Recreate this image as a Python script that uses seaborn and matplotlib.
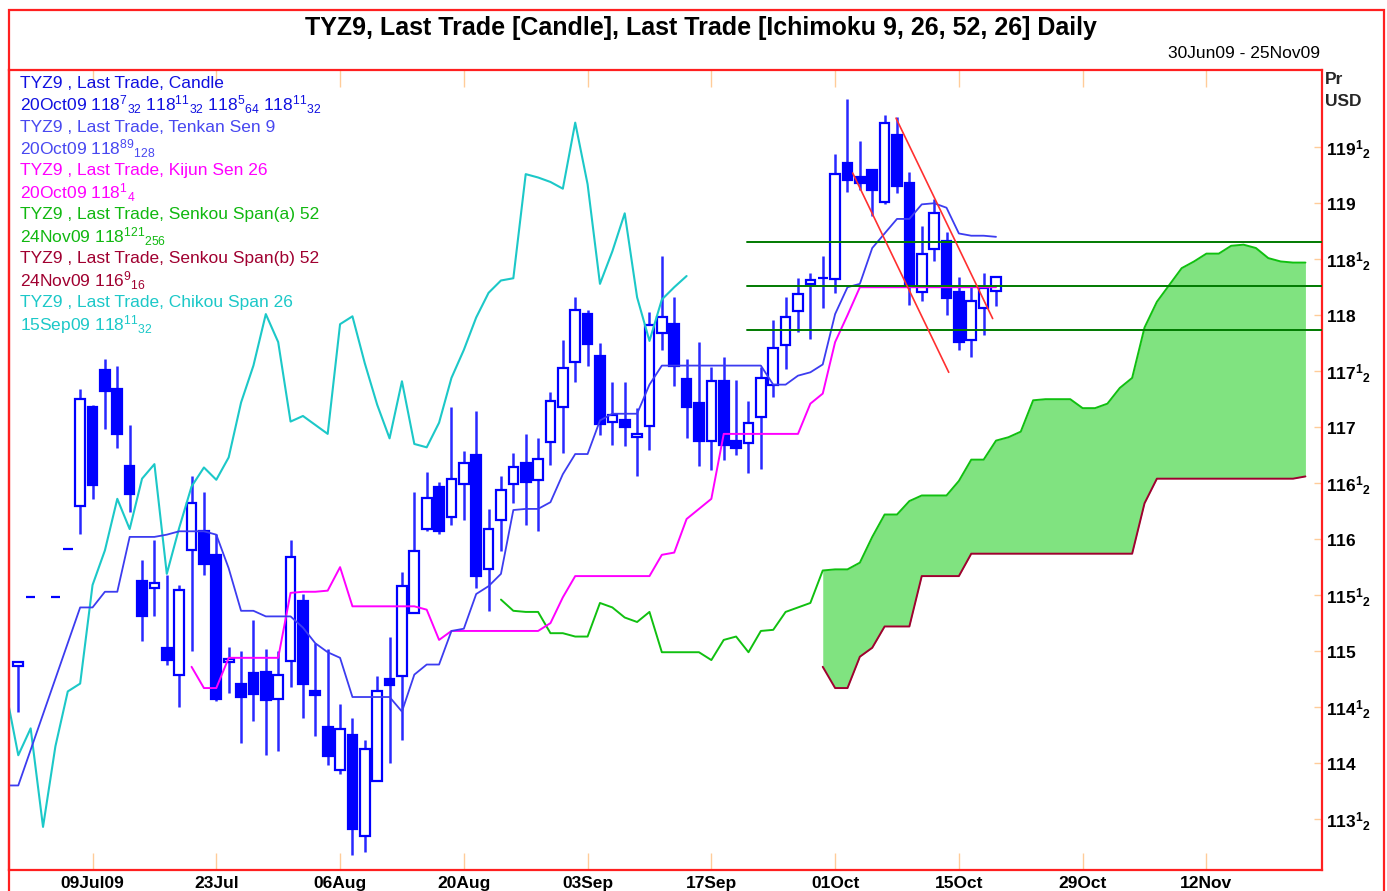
import numpy as np
import pandas as pd
import matplotlib
matplotlib.use("Agg")
import matplotlib.pyplot as plt
import seaborn as sns
from matplotlib.patches import Rectangle

# ---------------- data ----------------
sessions = pd.bdate_range("2009-06-30", "2009-11-25")   # x index 0..106
N = None

opens = [N, 114.87, 115.48, N, 115.48, 115.91, 116.30, 117.18, 117.51, 117.34,
         116.65, 115.63, 115.56, 115.03, 114.79, 115.90, 116.07, 115.86, 114.90, 114.71,
         114.80, 114.81, 114.57, 114.91, 115.45, 114.64, 114.32, 113.94, 114.25, 113.35,
         113.84, 114.75, 114.78, 115.34, 116.09, 116.47, 116.20, 116.49, 116.75, 115.73,
         116.17, 116.49, 116.68, 116.53, 116.87, 117.18, 117.58, 118.01, 117.64, 117.05,
         117.06, 116.91, 117.01, 117.84, 117.92, 117.43, 117.22, 116.88, 117.41, 116.88,
         116.86, 117.09, 117.38, 117.73, 118.04, 118.28, 118.33, 118.32, 119.36, 119.23,
         119.30, 119.01, 119.61, 119.18, 118.21, 118.59, 118.66, 118.21, 117.78, 118.06,
         118.22]
highs = [N, 114.90, 115.48, N, 115.48, 115.91, 117.34, 117.20, 117.61, 117.55,
         117.02, 115.81, 115.99, 115.68, 115.59, 116.56, 116.42, 116.05, 115.04, 115.00,
         115.28, 115.02, 115.00, 115.99, 115.51, 115.07, 115.02, 114.53, 114.40, 114.21,
         114.78, 115.13, 115.71, 116.42, 116.60, 116.51, 117.18, 116.79, 117.14, 116.27,
         116.56, 116.77, 116.94, 116.90, 117.31, 117.78, 118.16, 118.05, 117.75, 117.40,
         117.40, 117.17, 118.03, 118.53, 118.16, 117.61, 117.76, 117.54, 117.63, 117.42,
         117.23, 117.54, 117.96, 118.16, 118.33, 118.38, 118.53, 119.44, 119.93, 119.56,
         119.31, 119.79, 119.77, 119.28, 118.80, 119.04, 118.74, 118.34, 118.27, 118.38,
         118.34]
lows = [N, 114.46, 115.48, N, 115.48, 115.91, 116.05, 116.36, 116.98, 116.81,
        116.24, 115.09, 115.31, 114.88, 114.50, 115.00, 115.68, 114.55, 114.63, 114.18,
        114.38, 114.07, 114.11, 114.68, 114.40, 114.24, 113.98, 113.90, 113.18, 113.21,
        113.84, 114.00, 114.21, 115.34, 116.07, 116.05, 116.13, 116.17, 115.56, 115.36,
        115.89, 116.32, 116.13, 116.07, 116.66, 116.77, 117.40, 117.55, 116.93, 116.84,
        116.83, 116.56, 116.80, 117.69, 117.37, 116.90, 116.65, 116.62, 116.71, 116.75,
        116.59, 116.63, 117.27, 117.52, 117.85, 117.79, 118.06, 118.20, 119.10, 119.12,
        118.89, 118.99, 119.09, 118.09, 118.13, 118.48, 118.00, 117.69, 117.63, 117.82,
        118.08]
closes = [N, 114.90, 115.48, N, 115.48, 115.91, 117.25, 116.48, 117.32, 116.94,
          116.40, 115.31, 115.61, 114.92, 115.55, 116.32, 115.78, 114.57, 114.93, 114.59,
          114.62, 114.56, 114.79, 115.84, 114.71, 114.61, 114.06, 114.30, 113.41, 114.13,
          114.64, 114.70, 115.58, 115.89, 116.37, 116.07, 116.54, 116.68, 115.67, 116.09,
          116.44, 116.64, 116.51, 116.72, 117.23, 117.53, 118.05, 117.74, 117.03, 117.11,
          117.00, 116.94, 117.91, 117.98, 117.55, 117.18, 116.88, 117.41, 116.84, 116.81,
          117.04, 117.44, 117.71, 117.98, 118.19, 118.31, 118.33, 119.26, 119.21, 119.18,
          119.12, 119.72, 119.15, 118.27, 118.55, 118.91, 118.15, 117.76, 118.13, 118.24,
          118.34]

# Tenkan Sen 9 (index 0..80)
tenkan = [113.80, 113.80, N, N, N, N, 115.39, 115.39, 115.53, 115.53,
          116.02, 116.02, 116.02, 116.04, 116.07, 116.07, 116.07, 116.04, 115.74, 115.36,
          115.36, 115.31, 115.31, 115.31, 115.21, 115.07, 114.99, 114.94, 114.59, 114.59,
          114.59, 114.59, 114.46, 114.79, 114.88, 114.88, 115.18, 115.20, 115.51, 115.58,
          115.69, 116.26, 116.27, 116.27, 116.33, 116.58, 116.76, 116.76, 117.06, 117.12,
          117.12, 117.12, 117.38, 117.55, 117.55, 117.55, 117.55, 117.55, 117.55, 117.55,
          117.55, 117.55, 117.38, 117.38, 117.46, 117.49, 117.56, 118.01, 118.25, 118.28,
          118.60, 118.73, 118.86, 118.86, 118.99, 119.00, 118.96, 118.73, 118.71, 118.71,
          118.70]

# Kijun Sen 26 (index 15..80)
kijun_start = 15
kijun = [114.86, 114.67, 114.67, 114.94, 114.94, 114.94, 114.94, 114.94, 115.52, 115.53,
         115.53, 115.54, 115.75, 115.40, 115.40, 115.40, 115.40, 115.40, 115.40, 115.37,
         115.10, 115.18, 115.18, 115.18, 115.18, 115.18, 115.18, 115.18, 115.18, 115.25,
         115.48, 115.67, 115.67, 115.67, 115.67, 115.67, 115.67, 115.67, 115.86, 115.88,
         116.18, 116.27, 116.36, 116.94, 116.94, 116.94, 116.94, 116.94, 116.94, 116.94,
         117.21, 117.30, 117.76, 118.00, 118.25, 118.25, 118.25, 118.25, 118.25, 118.25,
         118.25, 118.25, 118.25, 118.25, 118.25, 118.25]

# Senkou Span(a) 52 (index 40..105)
span_a_start = 40
span_a = [115.46, 115.36, 115.35, 115.35, 115.16, 115.16, 115.13, 115.13, 115.43, 115.39,
          115.30, 115.26, 115.35, 114.99, 114.99, 114.99, 114.99, 114.92, 115.10, 115.13,
          114.99, 115.18, 115.19, 115.35, 115.39, 115.43, 115.72, 115.73, 115.73, 115.79,
          116.02, 116.22, 116.22, 116.34, 116.39, 116.39, 116.39, 116.52, 116.71, 116.71,
          116.88, 116.91, 116.96, 117.24, 117.25, 117.25, 117.25, 117.17, 117.17, 117.21,
          117.35, 117.44, 117.89, 118.12, 118.27, 118.42, 118.48, 118.55, 118.55, 118.62,
          118.63, 118.60, 118.51, 118.48, 118.47, 118.47]

# Senkou Span(b) 52 (index 66..105)
span_b_start = 66
span_b = [114.86, 114.67, 114.67, 114.95, 115.03, 115.22, 115.22, 115.22, 115.67, 115.67,
          115.67, 115.67, 115.87, 115.87, 115.87, 115.87, 115.87, 115.87, 115.87, 115.87,
          115.87, 115.87, 115.87, 115.87, 115.87, 115.87, 116.32, 116.54, 116.54, 116.54,
          116.54, 116.54, 116.54, 116.54, 116.54, 116.54, 116.54, 116.54, 116.54, 116.56]

# Chikou Span 26 (index 0..55)
chikou = [114.64, 114.07, 114.31, 113.43, 114.15, 114.64, 114.71, 115.59, 115.90, 116.36,
          116.09, 116.54, 116.67, 115.69, 116.10, 116.47, 116.64, 116.53, 116.73, 117.22,
          117.55, 118.01, 117.76, 117.05, 117.10, 117.02, 116.94, 117.92, 117.99, 117.57,
          117.20, 116.90, 117.41, 116.85, 116.82, 117.04, 117.44, 117.69, 117.98, 118.20,
          118.31, 118.33, 119.26, 119.23, 119.19, 119.13, 119.72, 119.17, 118.28, 118.57,
          118.91, 118.16, 117.77, 118.14, 118.25, 118.35]

# drawn annotations
hline_levels = [118.65, 118.26, 117.87]
hline_start = 59.9
trend_x = [[68.42, 76.18], [71.92, 79.73]]
trend_y = [[119.27, 117.49], [119.76, 117.97]]

xtick_pos = [7, 17, 27, 37, 47, 57, 67, 77, 87, 97]
xtick_labels = ["09Jul09", "23Jul", "06Aug", "20Aug", "03Sep", "17Sep",
                "01Oct", "15Oct", "29Oct", "12Nov"]
ytick_vals = [113.5, 114, 114.5, 115, 115.5, 116, 116.5, 117, 117.5, 118, 118.5, 119, 119.5]

# ---------------- style ----------------
sns.set_theme(style="white")
plt.rcParams["font.family"] = ["Liberation Sans", "DejaVu Sans"]
plt.rcParams["mathtext.fontset"] = "custom"
plt.rcParams["mathtext.rm"] = "Liberation Sans"
plt.rcParams["mathtext.it"] = "Liberation Sans"
plt.rcParams["mathtext.bf"] = "Liberation Sans:bold"
plt.rcParams["mathtext.default"] = "regular"

W, H = 1387, 891
fig = plt.figure(figsize=(W / 100, H / 100), dpi=100)
fig.patch.set_facecolor("white")
L, R, T, B = 9, 1322, 70, 870
ax = fig.add_axes([L / W, 1 - B / H, (R - L) / W, (B - T) / H])
ax.set_facecolor("white")

C_CANDLE = "#0000FF"
C_WICK = "#2828FF"
C_TENKAN = "#3C3CF0"
C_KIJUN = "#FF00FF"
C_SPANA = "#10C010"
C_SPANB = "#A00030"
C_CHIKOU = "#1CC8C8"
C_CLOUD = "#80E380"

# cloud
ib = np.arange(span_b_start, span_b_start + len(span_b))
a_on_b = np.array(span_a)[ib - span_a_start]
ax.fill_between(ib, np.array(span_b), a_on_b, color=C_CLOUD, lw=0, zorder=1)

# candles
idx = np.arange(len(opens))
for i in idx:
    o, h, l, c = opens[i], highs[i], lows[i], closes[i]
    if o is None:
        continue
    ax.vlines(i, l, h, color=C_WICK, lw=1.8, zorder=2)
    up = c >= o
    ax.bar(i, max(abs(c - o), 0.0), bottom=min(o, c), width=0.78,
           color="white" if up else C_CANDLE, edgecolor=C_CANDLE,
           linewidth=1.6, zorder=3)


def line(values, start, color, lw):
    d = pd.DataFrame({"i": np.arange(start, start + len(values)),
                      "v": pd.to_numeric(pd.Series(values), errors="coerce")}).dropna()
    sns.lineplot(data=d, x="i", y="v", ax=ax, color=color, linewidth=lw,
                 estimator=None, sort=False, legend=False, zorder=4)


line(chikou, 0, C_CHIKOU, 1.5)
line(span_a, span_a_start, C_SPANA, 1.4)
line(span_b, span_b_start, C_SPANB, 1.4)
line(kijun, kijun_start, C_KIJUN, 1.4)
line(tenkan, 0, C_TENKAN, 1.3)

for lv in hline_levels:
    ax.plot([hline_start, 107], [lv, lv], color="#007A00", lw=1.4, zorder=5)
for tx, ty in zip(trend_x, trend_y):
    ax.plot(tx, ty, color="#FF3030", lw=1.2, zorder=5)

ax.set_xlim(0.25, 106.34)
ax.set_ylim(113.045, 120.19)
ax.set_xlabel("")
ax.set_ylabel("")
ax.grid(False)

for s in ax.spines.values():
    s.set_color("#FF2020")
    s.set_linewidth(1.6)

ax.set_xticks(xtick_pos)
ax.set_xticklabels(xtick_labels, fontweight="bold", fontsize=12.5)
ax.tick_params(axis="x", direction="in", length=12, width=1, color="#FFCC99",
               top=True, bottom=True, pad=4, labelcolor="black")


def frac_label(v):
    whole = int(np.floor(v))
    if abs(v - whole) < 1e-9:
        return r"$\mathbf{%d}$" % whole
    return r"$\mathbf{%d^{1}{}_{2}}$" % whole


ax.yaxis.tick_right()
ax.set_yticks(ytick_vals)
ax.set_yticklabels([frac_label(v) for v in ytick_vals], fontsize=12.5)
ax.tick_params(axis="y", direction="in", length=6, width=1, color="#FFCC99",
               right=True, left=False, pad=3, labelcolor="black")

# outer frame
fig.add_artist(Rectangle((9 / W, -0.01), (1384 - 9) / W, (H - 10) / H + 0.01,
                         transform=fig.transFigure, fill=False,
                         edgecolor="#FF2020", lw=1.6))


def ftext(x, y, s, **kw):
    fig.text(x / W, 1 - y / H, s, **kw)


ftext(701, 28, "TYZ9, Last Trade [Candle], Last Trade [Ichimoku 9, 26, 52, 26] Daily",
      ha="center", va="center", fontsize=18, fontweight="bold", color="black")
ftext(1320, 53, "30Jun09 - 25Nov09", ha="right", va="center", fontsize=12.5, color="black")
ftext(1325, 80, "Pr", ha="left", va="center", fontsize=12.5, fontweight="bold")
ftext(1325, 101, "USD", ha="left", va="center", fontsize=12.5, fontweight="bold")

legend_rows = [
    ("TYZ9 , Last Trade, Candle", "#1010E0"),
    (r"20Oct09 $118^{7}{}_{32}$ $118^{11}{}_{32}$ $118^{5}{}_{64}$ $118^{11}{}_{32}$", "#1010E0"),
    ("TYZ9 , Last Trade, Tenkan Sen 9", "#4848F0"),
    (r"20Oct09 $118^{89}{}_{128}$", "#4848F0"),
    ("TYZ9 , Last Trade, Kijun Sen 26", "#FF00FF"),
    (r"20Oct09 $118^{1}{}_{4}$", "#FF00FF"),
    ("TYZ9 , Last Trade, Senkou Span(a) 52", "#10B810"),
    (r"24Nov09 $118^{121}{}_{256}$", "#10B810"),
    ("TYZ9 , Last Trade, Senkou Span(b) 52", "#A00030"),
    (r"24Nov09 $116^{9}{}_{16}$", "#A00030"),
    ("TYZ9 , Last Trade, Chikou Span 26", "#1CC8C8"),
    (r"15Sep09 $118^{11}{}_{32}$", "#1CC8C8"),
]
for k, (s, col) in enumerate(legend_rows):
    ftext(20, 83 + k * 22, s, ha="left", va="center", fontsize=12.5, color=col)

fig.savefig("out.png", dpi=100, facecolor="white")
